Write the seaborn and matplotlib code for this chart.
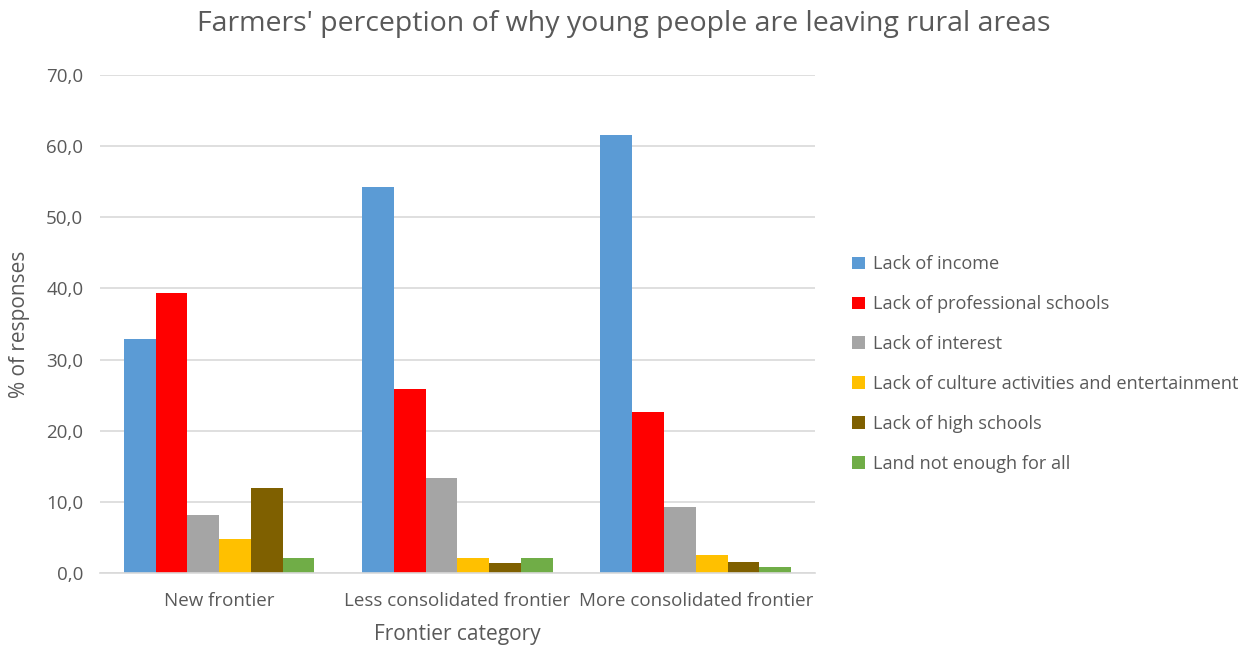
import matplotlib
matplotlib.use("Agg")
import matplotlib.pyplot as plt
import seaborn as sns
import pandas as pd
from matplotlib.ticker import FuncFormatter

categories = ["New frontier", "Less consolidated frontier", "More consolidated frontier"]
reasons = ["Lack of income", "Lack of professional schools", "Lack of interest",
           "Lack of culture activities and entertainment", "Lack of high schools",
           "Land not enough for all"]
lack_income = [32.9, 54.2, 61.6]
lack_prof_schools = [39.4, 25.9, 22.6]
lack_interest = [8.2, 13.4, 9.3]
lack_culture = [4.8, 2.1, 2.6]
lack_high_schools = [12.0, 1.4, 1.5]
land_not_enough = [2.1, 2.1, 0.9]
colors = ["#5B9BD5", "#FF0000", "#A5A5A5", "#FFC000", "#7F6000", "#70AD47"]

series = [lack_income, lack_prof_schools, lack_interest, lack_culture,
          lack_high_schools, land_not_enough]
rows = []
for r, vals in zip(reasons, series):
    for c, v in zip(categories, vals):
        rows.append({"Frontier category": c, "Reason": r, "value": v})
df = pd.DataFrame(rows)

sns.set_theme(style="white")
plt.rcParams["font.family"] = ["Open Sans", "DejaVu Sans"]

fig = plt.figure(figsize=(12.6, 6.48), dpi=100)
ax = fig.add_axes([100/1260, 1-573/648, 715/1260, 498/648])

sns.barplot(data=df, x="Frontier category", y="value", hue="Reason",
            order=categories, hue_order=reasons, palette=colors,
            width=0.8, ax=ax, saturation=1, legend=True, linewidth=0,
            edgecolor="none")

ax.set_ylim(0, 70)
ax.set_yticks(range(0, 71, 10))
ax.yaxis.set_major_formatter(FuncFormatter(lambda v, p: f"{v:.1f}".replace(".", ",")))
ax.grid(axis="y", color="#D9D9D9", linewidth=1.2)
ax.set_axisbelow(True)
for s in ["left", "right", "top"]:
    ax.spines[s].set_visible(False)
ax.spines["bottom"].set_color("#D9D9D9")
ax.spines["bottom"].set_linewidth(1.2)
ax.tick_params(axis="both", colors="#595959", labelsize=13.5, length=0)
ax.tick_params(axis="x", pad=14)
ax.tick_params(axis="y", pad=12)
ax.set_xlabel("Frontier category", fontsize=15, color="#595959", labelpad=10)
ax.set_ylabel("% of responses", fontsize=15, color="#595959", labelpad=12)
fig.suptitle("Farmers' perception of why young people are leaving rural areas",
             x=0.495, y=0.985, fontsize=20.5, color="#595959")

leg = ax.legend(loc="center left", bbox_to_anchor=(836/1260, 1-364/648),
                bbox_transform=fig.transFigure, frameon=False, fontsize=13.1,
                labelspacing=1.2, handlelength=0.7, handleheight=0.7,
                handletextpad=0.45)
for t in leg.get_texts():
    t.set_color("#595959")

fig.savefig("out.png", dpi=100)
